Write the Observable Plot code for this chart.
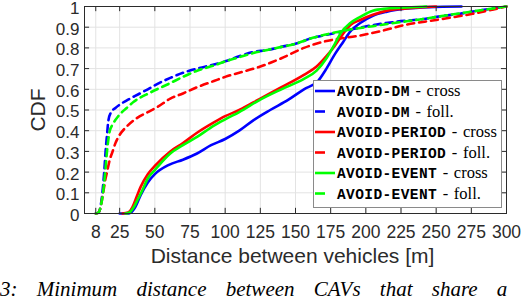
<!DOCTYPE html>
<html>
<head>
<meta charset="utf-8">
<script src="https://cdn.jsdelivr.net/npm/d3@7"></script>
<script src="https://cdn.jsdelivr.net/npm/@observablehq/plot@0.6"></script>
<style>
  html, body { margin: 0; padding: 0; background: #fff; }
  #wrap { position: relative; width: 530px; height: 300px; overflow: hidden; }
  #overlay { position: absolute; left: 0; top: 0; }
</style>
</head>
<body>
<div id="wrap"></div>
<script>
// ---- tick values / labels ----
const xTicks = [8, 25, 50, 75, 100, 125, 150, 175, 200, 225, 250, 275, 300];
const yTicks = [0, 0.1, 0.2, 0.3, 0.4, 0.5, 0.6, 0.7, 0.8, 0.9, 1];
const yTickLabels = ["0", "0.1", "0.2", "0.3", "0.4", "0.5", "0.6", "0.7", "0.8", "0.9", "1"];

// ---- series ----
const seriesNames = ["AVOID-DM", "AVOID-DM", "AVOID-PERIOD", "AVOID-PERIOD", "AVOID-EVENT", "AVOID-EVENT"];
const seriesKinds = ["cross", "foll.", "cross", "foll.", "cross", "foll."];
const seriesColors = ["#0000ff", "#0000ff", "#ff0000", "#ff0000", "#00ff00", "#00ff00"];

const dmCrossX = [25, 30, 33, 36, 40, 45, 50, 60, 70, 80, 90, 100, 110, 120, 132, 145, 156, 166, 172, 178, 184, 189, 196, 205, 215, 229, 245, 268];
const dmCrossY = [0, 0, 0.005, 0.03, 0.09, 0.15, 0.19, 0.235, 0.26, 0.29, 0.33, 0.36, 0.40, 0.45, 0.50, 0.55, 0.60, 0.64, 0.70, 0.77, 0.83, 0.88, 0.92, 0.955, 0.975, 0.99, 0.997, 1.0];

const dmFollX = [8, 10, 11, 12, 13, 14, 15, 16, 17, 19, 22, 26, 31, 38, 45, 53, 61, 70, 80, 92, 100, 110, 120, 130, 140, 150, 163, 170, 180, 190, 205, 220, 241, 255, 267, 280, 290, 300];
const dmFollY = [0, 0.005, 0.02, 0.06, 0.12, 0.2, 0.3, 0.38, 0.45, 0.49, 0.51, 0.53, 0.55, 0.575, 0.60, 0.63, 0.655, 0.68, 0.70, 0.72, 0.735, 0.76, 0.78, 0.79, 0.805, 0.82, 0.85, 0.86, 0.875, 0.89, 0.91, 0.925, 0.94, 0.955, 0.965, 0.98, 0.99, 1.0];

const periodCrossX = [27, 31, 34, 37, 40, 45, 50, 61, 70, 80, 92, 100, 110, 125, 140, 156, 165, 172, 178, 183, 189, 196, 205, 215, 229, 250];
const periodCrossY = [0, 0.005, 0.03, 0.08, 0.13, 0.19, 0.23, 0.30, 0.34, 0.39, 0.44, 0.47, 0.50, 0.555, 0.61, 0.67, 0.71, 0.76, 0.81, 0.86, 0.91, 0.935, 0.96, 0.98, 0.99, 1.0];

const periodFollX = [8, 10, 11, 12, 13, 14, 15, 16, 18, 20, 22, 25, 30, 37, 45, 52, 61, 70, 80, 92, 100, 110, 125, 140, 156, 170, 177, 196, 210, 227, 250, 276, 290, 300];
const periodFollY = [0, 0.005, 0.02, 0.05, 0.09, 0.13, 0.17, 0.2, 0.26, 0.30, 0.34, 0.38, 0.42, 0.46, 0.49, 0.515, 0.555, 0.58, 0.61, 0.64, 0.66, 0.68, 0.71, 0.75, 0.80, 0.83, 0.84, 0.86, 0.88, 0.91, 0.935, 0.965, 0.985, 1.0];

const eventCrossX = [29, 32, 35, 38, 41, 45, 50, 61, 70, 80, 92, 100, 110, 125, 140, 156, 165, 172, 178, 182, 189, 196, 205, 215, 229, 243];
const eventCrossY = [0, 0.005, 0.03, 0.07, 0.11, 0.17, 0.21, 0.29, 0.33, 0.37, 0.425, 0.455, 0.49, 0.55, 0.60, 0.65, 0.69, 0.75, 0.82, 0.87, 0.92, 0.95, 0.98, 0.99, 0.995, 1.0];

const eventFollX = [8, 10, 11, 12, 13, 14, 15, 16, 17, 18, 20, 24, 30, 35, 47, 61, 70, 80, 92, 100, 110, 120, 130, 140, 150, 163, 175, 190, 205, 220, 241, 260, 280, 300];
const eventFollY = [0, 0.005, 0.02, 0.05, 0.09, 0.15, 0.22, 0.30, 0.36, 0.40, 0.43, 0.47, 0.51, 0.54, 0.585, 0.63, 0.66, 0.69, 0.715, 0.735, 0.755, 0.775, 0.79, 0.805, 0.82, 0.85, 0.87, 0.89, 0.905, 0.92, 0.94, 0.96, 0.98, 1.0];

const seriesX = [dmCrossX, dmFollX, periodCrossX, periodFollX, eventCrossX, eventFollX];
const seriesY = [dmCrossY, dmFollY, periodCrossY, periodFollY, eventCrossY, eventFollY];

const xLabel = "Distance between vehicles [m]";
const yLabel = "CDF";
const caption = "3: Minimum distance between CAVs that share a";

// ---- build ----
const tables = seriesX.map((xs, i) => xs.map((x, j) => ({x, y: seriesY[i][j]})));
const axisColor = "#2b2b2b";

const lineMarks = tables.map((t, i) => Plot.line(t, {
  x: "x", y: "y",
  stroke: seriesColors[i],
  strokeWidth: 2.6,
  strokeDasharray: seriesKinds[i] === "foll." ? "7,5" : null,
  curve: "monotone-x"
}));

const chart = Plot.plot({
  width: 530,
  height: 300,
  marginLeft: 84,
  marginRight: 24,
  marginTop: 6,
  marginBottom: 87,
  style: {fontFamily: "Liberation Sans, Arial, sans-serif", fontSize: "17px", color: axisColor, background: "white"},
  x: {domain: [0, 300]},
  y: {domain: [0, 1]},
  marks: [
    Plot.gridX(xTicks, {stroke: "#e3e3e3", strokeOpacity: 1, strokeWidth: 1}),
    Plot.gridY(yTicks, {stroke: "#e3e3e3", strokeOpacity: 1, strokeWidth: 1}),
    ...lineMarks,
    Plot.ruleX(xTicks, {x: d => d, y1: 0, y2: 0.025, stroke: axisColor}),
    Plot.ruleX(xTicks, {x: d => d, y1: 0.975, y2: 1, stroke: axisColor}),
    Plot.ruleY(yTicks, {y: d => d, x1: 0, x2: 3.6, stroke: axisColor}),
    Plot.ruleY(yTicks, {y: d => d, x1: 296.4, x2: 300, stroke: axisColor}),
    Plot.frame({stroke: axisColor, strokeWidth: 1}),
    Plot.axisX(xTicks, {anchor: "bottom", tickSize: 0, tickPadding: 12, label: null, fontSize: 17.5, tickFormat: d => String(d)}),
    Plot.axisY(yTicks, {anchor: "left", tickSize: 0, tickPadding: 5, dy: 2, label: null, fontSize: 17, tickFormat: d => yTickLabels[yTicks.indexOf(d)]})
  ]
});

const wrap = document.getElementById("wrap");
wrap.appendChild(chart);

// ---- overlay: axis titles, legend, caption ----
const ns = "http://www.w3.org/2000/svg";
const ov = document.createElementNS(ns, "svg");
ov.setAttribute("id", "overlay");
ov.setAttribute("width", 530);
ov.setAttribute("height", 300);
wrap.appendChild(ov);

function el(tag, attrs, text) {
  const e = document.createElementNS(ns, tag);
  for (const k in attrs) e.setAttribute(k, attrs[k]);
  if (text != null) e.textContent = text;
  return e;
}

ov.appendChild(el("text", {x: 292.5, y: 263, "text-anchor": "middle", "font-family": "Liberation Sans, Arial, sans-serif", "font-size": 21, fill: axisColor}, xLabel));
ov.appendChild(el("text", {transform: "translate(45,110) rotate(-90)", "text-anchor": "middle", "font-family": "Liberation Sans, Arial, sans-serif", "font-size": 21, fill: axisColor}, yLabel));

// legend
const lg = el("g", {});
ov.appendChild(lg);
lg.appendChild(el("rect", {x: 313.5, y: 80.5, width: 188, height: 127, fill: "white", stroke: "#8a8a8a", "stroke-width": 1}));
seriesNames.forEach((name, i) => {
  const cy = 91 + i * 20.5;
  const dashed = seriesKinds[i] === "foll.";
  lg.appendChild(el("line", {x1: 315, x2: dashed ? 325 : 335, y1: cy, y2: cy, stroke: seriesColors[i], "stroke-width": 2.6}));
  const t = el("text", {x: 337, y: cy + 5, fill: "black"});
  const a = el("tspan", {"font-family": "Liberation Mono, DejaVu Sans Mono, monospace", "font-weight": "bold", "font-size": 14.5, "letter-spacing": 0.4}, name);
  const b = el("tspan", {"font-family": "Liberation Serif, Times New Roman, serif", "font-size": 16.5, "word-spacing": 1.5}, " - " + seriesKinds[i]);
  t.appendChild(a); t.appendChild(b);
  lg.appendChild(t);
});

// caption
ov.appendChild(el("text", {x: 0, y: 296, "font-family": "Liberation Serif, Times New Roman, serif", "font-style": "italic", "font-size": 21, "word-spacing": 14, fill: "black"}, caption));
</script>
</body>
</html>
